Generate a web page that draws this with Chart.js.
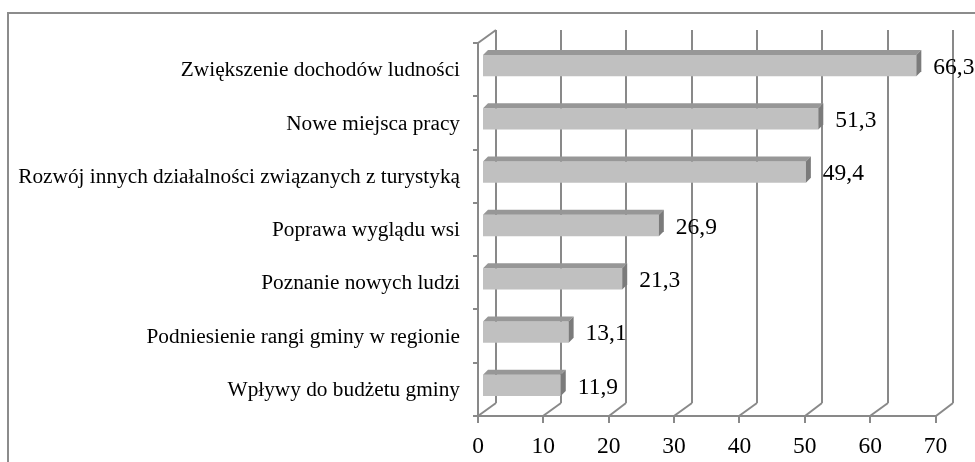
<!DOCTYPE html>
<html lang="pl">
<head>
<meta charset="utf-8">
<title>Korzyści z rozwoju turystyki</title>
<script src="https://cdn.jsdelivr.net/npm/chart.js@4/dist/chart.umd.min.js"></script>
<style>
  html, body { margin: 0; padding: 0; background: #ffffff; }
  #wykres { display: block; }
</style>
</head>
<body>
<canvas id="wykres" width="975" height="462"></canvas>
<script>
// dane (%)
const kategorie = [
    'Zwiększenie dochodów ludności',
    'Nowe miejsca pracy',
    'Rozwój innych działalności związanych z turystyką',
    'Poprawa wyglądu wsi',
    'Poznanie nowych ludzi',
    'Podniesienie rangi gminy w regionie',
    'Wpływy do budżetu gminy'
];
const wartosci = [66.3, 51.3, 49.4, 26.9, 21.3, 13.1, 11.9];

// oś X
const minX = 0;
const maxX = 70;
const krokX = 10;

// "glebia" 3D w pikselach (wzgledem plaszczyzny slupkow)
const PRZOD = { dx: -5, dy: 4 };
const TYL = { dx: 12.5, dy: -9 };
const GLEBIA_SLUPKA = 5;

const czcionka = "'Times New Roman', 'Liberation Serif', serif";
const kolorLinii = '#898989';

function linia(ctx, x1, y1, x2, y2) {
    ctx.beginPath();
    ctx.moveTo(x1, y1);
    ctx.lineTo(x2, y2);
    ctx.stroke();
}

function wielokat(ctx, punkty) {
    ctx.beginPath();
    ctx.moveTo(punkty[0][0], punkty[0][1]);
    for (let i = 1; i < punkty.length; i++) ctx.lineTo(punkty[i][0], punkty[i][1]);
    ctx.closePath();
    ctx.fill();
}

// ramka calego wykresu
const ramka = {
    id: 'ramka',
    beforeDraw(chart) {
        const ctx = chart.ctx;
        ctx.save();
        ctx.strokeStyle = '#8c8c8c';
        ctx.lineWidth = 2;
        ctx.strokeRect(8, 13, 1100, 600);
        ctx.restore();
    }
};

// sciany, podloga i linie siatki
const tlo3d = {
    id: 'tlo3d',
    beforeDatasetsDraw(chart) {
        const { ctx, chartArea: a, scales: { x, y } } = chart;
        ctx.save();
        ctx.strokeStyle = kolorLinii;
        ctx.lineWidth = 2;

        const fTop = Math.round(a.top + PRZOD.dy);
        const fBot = Math.round(a.bottom + PRZOD.dy);
        const bTop = Math.round(a.top + TYL.dy);
        const bBot = Math.round(a.bottom + TYL.dy);

        for (let v = minX; v <= maxX; v += krokX) {
            const px = x.getPixelForValue(v);
            const pf = Math.round(px + PRZOD.dx);
            const pb = Math.round(px + TYL.dx);
            linia(ctx, pb, bTop, pb, bBot);        // tylna sciana
            linia(ctx, pf, fBot, pb, bBot);        // podloga
            linia(ctx, pf, fBot, pf, fBot + 7);    // znacznik
        }
        const x0 = x.getPixelForValue(minX);
        const x7 = x.getPixelForValue(maxX);
        const f0 = Math.round(x0 + PRZOD.dx);
        linia(ctx, f0 - 5, fBot, Math.round(x7 + PRZOD.dx), fBot);
        // lewa sciana
        linia(ctx, f0, fTop, f0, fBot);
        linia(ctx, f0, fTop, Math.round(x0 + TYL.dx), bTop);

        // znaczniki kategorii na lewej krawedzi
        const n = kategorie.length;
        for (let i = 0; i <= n; i++) {
            let py;
            if (i === 0) py = a.top;
            else if (i === n) py = a.bottom;
            else py = (y.getPixelForValue(i - 1) + y.getPixelForValue(i)) / 2;
            py = Math.round(py + PRZOD.dy);
            linia(ctx, f0 - 5, py, f0, py);
        }
        ctx.restore();
    },
    afterDatasetsDraw(chart) {
        const ctx = chart.ctx;
        const meta = chart.getDatasetMeta(0);
        const d = GLEBIA_SLUPKA;
        ctx.save();
        meta.data.forEach((bar, i) => {
            const p = bar.getProps(['x', 'y', 'base', 'height'], true);
            const gora = p.y - p.height / 2;
            const dol = p.y + p.height / 2;
            ctx.fillStyle = '#979797';
            wielokat(ctx, [[p.base, gora], [p.x, gora], [p.x + d, gora - d], [p.base + d, gora - d]]);
            ctx.fillStyle = '#7b7b7b';
            wielokat(ctx, [[p.x, gora], [p.x + d, gora - d], [p.x + d, dol - d], [p.x, dol]]);

            ctx.fillStyle = '#000000';
            ctx.font = '23.5px ' + czcionka;
            ctx.textAlign = 'left';
            ctx.textBaseline = 'middle';
            ctx.fillText(wartosci[i].toFixed(1).replace('.', ','), p.x + 17, p.y + 2);
        });
        ctx.restore();
    }
};

new Chart(document.getElementById('wykres'), {
    type: 'bar',
    data: {
        labels: kategorie,
        datasets: [{
            data: wartosci,
            backgroundColor: '#c0c0c0',
            borderWidth: 0,
            barPercentage: 0.4,
            categoryPercentage: 1
        }]
    },
    options: {
        indexAxis: 'y',
        responsive: false,
        animation: false,
        devicePixelRatio: 1,
        layout: { padding: { top: 39, right: 34.5, bottom: 0, left: 0 } },
        plugins: {
            legend: { display: false },
            tooltip: { enabled: false }
        },
        scales: {
            x: {
                min: minX,
                max: maxX,
                grid: { display: false, drawTicks: false },
                border: { display: false },
                ticks: {
                    stepSize: krokX,
                    color: '#000000',
                    font: { family: czcionka, size: 23.5 },
                    padding: 21,
                    labelOffset: PRZOD.dx
                },
                afterFit(scale) { scale.height = 50; }
            },
            y: {
                grid: { display: false, drawTicks: false },
                border: { display: false },
                ticks: {
                    color: '#000000',
                    font: { family: czcionka, size: 21.3 },
                    padding: 23,
                    labelOffset: 5
                },
                afterFit(scale) { scale.width = 483; }
            }
        }
    },
    plugins: [ramka, tlo3d]
});
</script>
</body>
</html>
